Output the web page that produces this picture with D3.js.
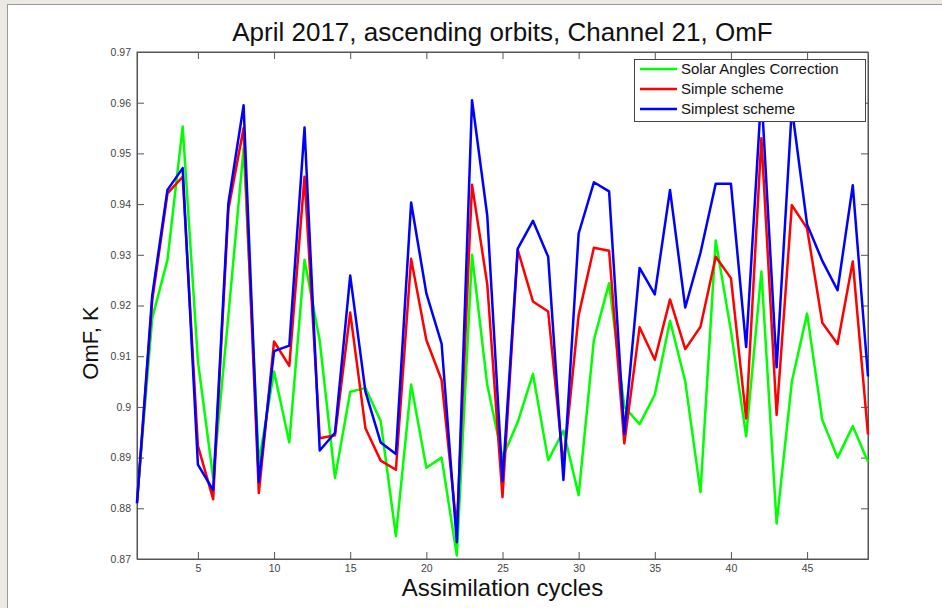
<!DOCTYPE html>
<html>
<head>
<meta charset="utf-8">
<script src="https://cdn.jsdelivr.net/npm/d3@7/dist/d3.min.js"></script>
<style>
  body { margin: 0; background: #ebe9e1; }
  svg { display: block; font-family: "Liberation Sans", Arial, sans-serif; }
  .axis path, .axis line { stroke: #555; }
  .axis text { fill: #444; font-size: 10.5px; }
</style>
</head>
<body>
<div id="chart"></div>
<script>
/*global d3 */

// assimilation cycles 1..49
var cycles = d3.range(1, 50);

var solarAngles = [0.8815, 0.9175, 0.929, 0.9553, 0.909, 0.886, 0.918, 0.951,
    0.889, 0.907, 0.893, 0.929, 0.913, 0.886, 0.903, 0.9037, 0.8972, 0.8745,
    0.9044, 0.888, 0.890, 0.8707, 0.930, 0.9043, 0.890, 0.897, 0.9065, 0.8895,
    0.8953, 0.8826, 0.9132, 0.9244, 0.900, 0.8966, 0.9024, 0.917, 0.905, 0.8832,
    0.9328, 0.915, 0.8942, 0.9267, 0.877, 0.905, 0.9184, 0.8974, 0.890, 0.8962,
    0.8892];

var simpleScheme = [0.881, 0.921, 0.9421, 0.9454, 0.8923, 0.8818, 0.939, 0.955,
    0.883, 0.9129, 0.9081, 0.9454, 0.8938, 0.8944, 0.9186, 0.8958, 0.8894, 0.8876,
    0.9292, 0.9132, 0.9053, 0.876, 0.9438, 0.9242, 0.8822, 0.931, 0.9208, 0.9188,
    0.8885, 0.9181, 0.9314, 0.9308, 0.8928, 0.9157, 0.9093, 0.9212, 0.9114, 0.9158,
    0.9296, 0.9254, 0.8977, 0.953, 0.8984, 0.9398, 0.9352, 0.9166, 0.9124, 0.9287,
    0.8946];

var simplestScheme = [0.881, 0.922, 0.9428, 0.9471, 0.8886, 0.8836, 0.9402, 0.9595,
    0.8852, 0.911, 0.9121, 0.9551, 0.8914, 0.8949, 0.9259, 0.903, 0.893, 0.8907,
    0.9403, 0.9224, 0.9125, 0.8733, 0.9605, 0.9377, 0.8854, 0.9312, 0.9367, 0.9296,
    0.8856, 0.9342, 0.9443, 0.9425, 0.8947, 0.9274, 0.9222, 0.9428, 0.9196, 0.9304,
    0.944, 0.944, 0.9118, 0.962, 0.9078, 0.959, 0.936, 0.9288, 0.923, 0.9437,
    0.906];

var seriesNames = ["Solar Angles Correction", "Simple scheme", "Simplest scheme"];
var seriesColors = ["#00ff00", "#ff0000", "#0000ff"];

var xTicks = [5, 10, 15, 20, 25, 30, 35, 40, 45];
var yTicks = [0.87, 0.88, 0.89, 0.90, 0.91, 0.92, 0.93, 0.94, 0.95, 0.96, 0.97];
var yTickLabels = ["0.87", "0.88", "0.89", "0.9", "0.91", "0.92", "0.93",
    "0.94", "0.95", "0.96", "0.97"];

(function () {
    "use strict";

    var W = 942, H = 608,
        m = {left: 137, right: 868, top: 52, bottom: 559},
        svg, x, y, line, series, leg;

    svg = d3.select("#chart").append("svg")
        .attr("width", W)
        .attr("height", H);

    // figure window background
    svg.append("rect")
        .attr("x", 7.5).attr("y", 4.5)
        .attr("width", W).attr("height", H)
        .attr("fill", "#fff")
        .attr("stroke", "#9a9a9a");

    x = d3.scaleLinear().domain([1, 49]).range([m.left, m.right]);
    y = d3.scaleLinear().domain([0.87, 0.97]).range([m.bottom, m.top]);

    //ticks point inwards, matlab style
    svg.append("g")
        .attr("class", "axis")
        .attr("transform", "translate(0," + m.bottom + ")")
        .call(d3.axisBottom(x).tickValues(xTicks).tickSizeInner(-7)
              .tickSizeOuter(0).tickPadding(6));
    svg.append("g")
        .attr("class", "axis")
        .attr("transform", "translate(0," + m.top + ")")
        .call(d3.axisTop(x).tickValues(xTicks).tickSizeInner(-7)
              .tickSizeOuter(0).tickFormat(""));
    svg.append("g")
        .attr("class", "axis")
        .attr("transform", "translate(" + m.left + ",0)")
        .call(d3.axisLeft(y).tickValues(yTicks).tickSizeInner(-7)
              .tickSizeOuter(0).tickPadding(6)
              .tickFormat(function (d, i) { return yTickLabels[i]; }));
    svg.append("g")
        .attr("class", "axis")
        .attr("transform", "translate(" + m.right + ",0)")
        .call(d3.axisRight(y).tickValues(yTicks).tickSizeInner(-7)
              .tickSizeOuter(0).tickFormat(""));

    svg.append("rect")
        .attr("x", m.left).attr("y", m.top)
        .attr("width", m.right - m.left)
        .attr("height", m.bottom - m.top)
        .attr("fill", "none")
        .attr("stroke", "#555");

    line = d3.line()
        .x(function (d, i) { return x(cycles[i]); })
        .y(function (d) { return y(d); });

    series = [solarAngles, simpleScheme, simplestScheme];
    svg.selectAll("path.series")
        .data(series)
        .enter().append("path")
        .attr("class", "series")
        .attr("d", line)
        .attr("fill", "none")
        .attr("stroke", function (d, i) { return seriesColors[i]; })
        .attr("stroke-width", 2.5)
        .attr("stroke-linejoin", "round");

    svg.append("text")
        .attr("x", (m.left + m.right) / 2)
        .attr("y", 41)
        .attr("text-anchor", "middle")
        .attr("font-size", 26)
        .attr("fill", "#111")
        .text("April 2017, ascending orbits, Channel 21, OmF");

    svg.append("text")
        .attr("x", (m.left + m.right) / 2)
        .attr("y", 596)
        .attr("text-anchor", "middle")
        .attr("font-size", 24)
        .attr("fill", "#111")
        .text("Assimilation cycles");

    svg.append("text")
        .attr("transform", "translate(98,343) rotate(-90)")
        .attr("text-anchor", "middle")
        .attr("font-size", 22)
        .attr("fill", "#111")
        .text("OmF, K");

    // legend sits on top of the lines
    leg = svg.append("g").attr("transform", "translate(634,59)");
    leg.append("rect")
        .attr("x", 0.5).attr("y", 0.5)
        .attr("width", 231).attr("height", 62)
        .attr("fill", "#fff")
        .attr("stroke", "#444");
    leg.selectAll("g.item")
        .data(seriesNames)
        .enter().append("g")
        .attr("class", "item")
        .attr("transform", function (d, i) {
            return "translate(0," + (10 + i * 20) + ")"; })
        .each(function (d, i) {
            var g = d3.select(this);
            g.append("line")
                .attr("x1", 6).attr("x2", 43)
                .attr("stroke", seriesColors[i])
                .attr("stroke-width", 2.5);
            g.append("text")
                .attr("x", 47).attr("dy", "0.35em")
                .attr("font-size", 15)
                .attr("fill", "#111")
                .text(d);
        });
}());
</script>
</body>
</html>
